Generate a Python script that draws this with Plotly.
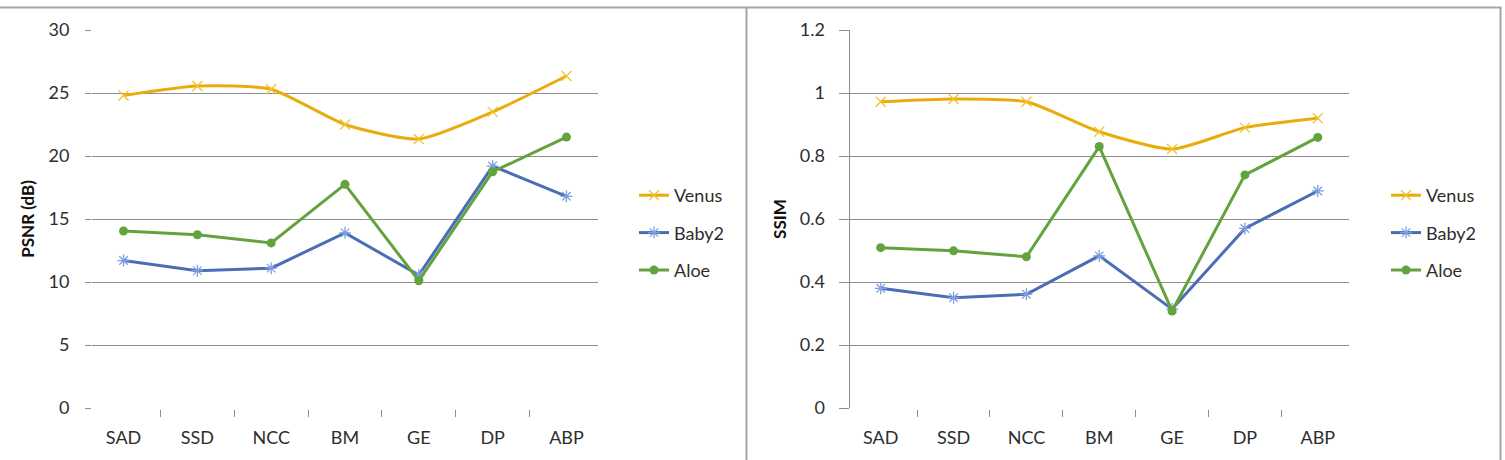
import plotly.graph_objects as go

categories = ["SAD", "SSD", "NCC", "BM", "GE", "DP", "ABP"]
series_names = ["Venus", "Baby2", "Aloe"]

psnr_venus = [24.8, 25.55, 25.3, 22.5, 21.35, 23.5, 26.35]
psnr_baby2 = [11.7, 10.9, 11.1, 13.9, 10.55, 19.2, 16.8]
psnr_aloe = [14.05, 13.75, 13.1, 17.75, 10.1, 18.75, 21.5]

ssim_venus = [0.972, 0.981, 0.972, 0.877, 0.822, 0.890, 0.920]
ssim_baby2 = [0.380, 0.350, 0.361, 0.483, 0.314, 0.570, 0.689]
ssim_aloe = [0.509, 0.499, 0.480, 0.830, 0.308, 0.740, 0.859]

psnr_ticks = [0, 5, 10, 15, 20, 25, 30]
ssim_ticks = [0, 0.2, 0.4, 0.6, 0.8, 1.0, 1.2]
ssim_ticktext = ["0", "0.2", "0.4", "0.6", "0.8", "1", "1.2"]

colors = {"Venus": "#E8AC0C", "Baby2": "#4A6DB6", "Aloe": "#62A33E"}
marker_colors = {"Venus": "#F2C233", "Baby2": "#7E9FE0", "Aloe": "#62A33E"}
symbols = {"Venus": "x-thin-open", "Baby2": "asterisk-open", "Aloe": "circle"}
shapes_line = {"Venus": "spline", "Baby2": "linear", "Aloe": "linear"}

W, H = 1505, 460
FONT = "Lato"
GRID = "#8E8E8E"
TXT = "#2E2E2E"

def px_x(p):
    return p / W

def px_y(p):
    return 1 - p / H

fig = go.Figure()

def add_series(xref, yref, legend, values_by_name):
    for name in series_names:
        vals = values_by_name[name]
        mk = dict(symbol=symbols[name], color=marker_colors[name])
        if name == "Aloe":
            mk.update(size=9, line=dict(width=0))
        else:
            mk.update(size=10, line=dict(width=1.3, color=marker_colors[name]))
        fig.add_trace(go.Scatter(
            x=categories, y=vals, name=name, mode="lines+markers",
            xaxis=xref, yaxis=yref, legend=legend, legendgroup=legend + name,
            line=dict(color=colors[name], width=3, shape=shapes_line[name], smoothing=0.6),
            marker=mk, hoverinfo="skip",
        ))

add_series("x", "y", "legend", {"Venus": psnr_venus, "Baby2": psnr_baby2, "Aloe": psnr_aloe})
add_series("x2", "y2", "legend2", {"Venus": ssim_venus, "Baby2": ssim_baby2, "Aloe": ssim_aloe})

ydom = [px_y(408), px_y(30)]

xcommon = dict(
    type="category", tickson="boundaries", ticks="outside", ticklen=7,
    tickcolor=GRID, tickwidth=1, showgrid=False, zeroline=False,
    showline=True, linecolor="white", linewidth=2, automargin=False,
    tickfont=dict(family=FONT, size=18, color=TXT), ticklabelstandoff=12,
    categoryorder="array", categoryarray=categories, fixedrange=True,
)
ycommon = dict(
    showgrid=True, gridcolor=GRID, gridwidth=1, zeroline=False,
    ticks="outside", tickcolor=GRID, tickwidth=1, automargin=False,
    tickfont=dict(family=FONT, size=18, color=TXT), fixedrange=True,
    domain=ydom,
)

fig.update_layout(
    width=W, height=H, margin=dict(l=0, r=0, t=0, b=0),
    paper_bgcolor="white", plot_bgcolor="white",
    showlegend=True,
    xaxis=dict(domain=[px_x(92), px_x(598)], anchor="y", **xcommon),
    xaxis2=dict(domain=[px_x(849.5), px_x(1349)], anchor="y2", **xcommon),
    yaxis=dict(range=[0, 30], tickvals=psnr_ticks, ticklen=6, showline=False,
               anchor="x", ticklabelstandoff=12,
               title=dict(text="<b>PSNR (dB)</b>", standoff=9,
                          font=dict(family=FONT, size=17, color="#111")),
               **ycommon),
    yaxis2=dict(range=[0, 1.2], tickvals=ssim_ticks, ticktext=ssim_ticktext,
                ticklen=10, showline=True, linecolor=GRID, linewidth=1,
                anchor="x2", ticklabelstandoff=10,
                title=dict(text="<b>SSIM</b>", standoff=8,
                           font=dict(family=FONT, size=17, color="#111")),
                **ycommon),
    legend=dict(x=px_x(634), y=px_y(177), xanchor="left", yanchor="top",
                font=dict(family=FONT, size=18, color=TXT), tracegroupgap=11,
                bgcolor="rgba(0,0,0,0)"),
    legend2=dict(x=px_x(1386), y=px_y(177), xanchor="left", yanchor="top",
                 font=dict(family=FONT, size=18, color=TXT), tracegroupgap=11,
                 bgcolor="rgba(0,0,0,0)"),
    shapes=[
        dict(type="line", xref="paper", yref="paper", x0=0, x1=px_x(1501.5),
             y0=px_y(7.5), y1=px_y(7.5), line=dict(color="#A6A6A6", width=2)),
        dict(type="line", xref="paper", yref="paper", x0=px_x(746.5), x1=px_x(746.5),
             y0=px_y(7.5), y1=0, line=dict(color="#A6A6A6", width=2)),
        dict(type="line", xref="paper", yref="paper", x0=px_x(1500.5), x1=px_x(1500.5),
             y0=px_y(7.5), y1=0, line=dict(color="#A6A6A6", width=2)),
    ],
)

fig.write_html("out.html")
